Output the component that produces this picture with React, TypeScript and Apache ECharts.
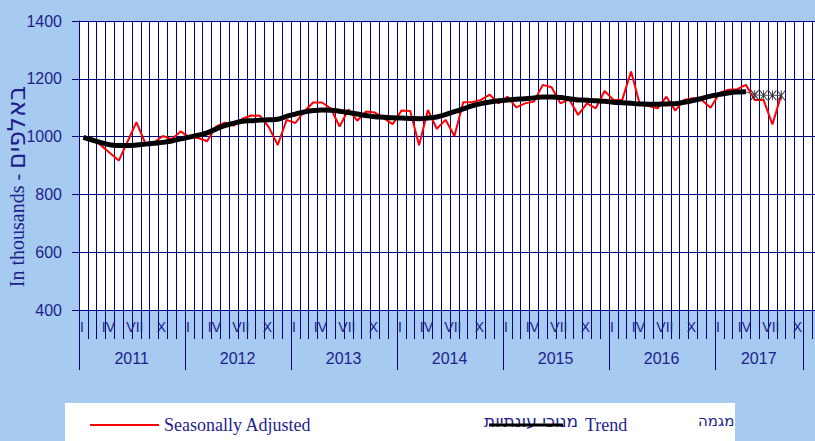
import React, { useEffect, useRef } from 'react';
import * as echarts from 'echarts';

const years = ['2011', '2012', '2013', '2014', '2015', '2016', '2017'];
const romanMonths = ['I', 'II', 'III', 'IV', 'V', 'VI', 'VII', 'VIII', 'IX', 'X', 'XI', 'XII'];
const shownMonthLabels = ['I', 'IV', 'VII', 'X'];
const categories: string[] = years.flatMap((y) => romanMonths.map((m) => `${y} ${m}`));
// last category covered by the year scale (axis separator after Oct 2017)
const yearScaleEnd = 82;

const seasonallyAdjusted = [
  998, 995, 969, 943, 917, 983, 1050, 977, 979, 1002, 991, 1018,
  998, 995, 984, 1034, 1048, 1038, 1062, 1073, 1072, 1032, 971, 1058,
  1047, 1087, 1118, 1118, 1098, 1035, 1094, 1055, 1087, 1083, 1064, 1043,
  1090, 1089, 970, 1092, 1027, 1058, 1002, 1119, 1119, 1127, 1145, 1115,
  1138, 1101, 1115, 1121, 1179, 1171, 1115, 1129, 1075, 1115, 1098, 1158,
  1127, 1127, 1225, 1110, 1106, 1098, 1138, 1090, 1127, 1133, 1127, 1100,
  1150, 1162, 1164, 1179, 1127, 1127, 1042, 1145,
];

const trend = [
  997, 988, 979, 972, 969, 969, 971, 974, 977, 980, 985, 992,
  998, 1005, 1013, 1026, 1038, 1046, 1053, 1055, 1057, 1058, 1060, 1070,
  1078, 1085, 1090, 1092, 1091, 1088, 1083, 1078, 1073, 1069, 1067, 1065,
  1064, 1063, 1062, 1064, 1068, 1076, 1086, 1096, 1106, 1114, 1120, 1124,
  1127, 1129, 1131, 1134, 1137, 1137, 1135, 1131, 1127, 1126, 1124, 1122,
  1119, 1117, 1115, 1113, 1112, 1112, 1113, 1114, 1119, 1125, 1132, 1140,
  1146, 1151, 1154, 1155,
];

// provisional trend estimates after the last trend month
const trendProvisional = [1144, 1143, 1143, 1142];

const NAVY = '#000080';
const TEXT = '#1e1e8c';

export default function App() {
  const ref = useRef<HTMLDivElement>(null);

  useEffect(() => {
    if (!ref.current) return;
    const chart = echarts.init(ref.current, null, { renderer: 'svg' });

    const lastTrend = trend.length - 1;
    const provisionalData: any[] = categories.map(() => null);
    provisionalData[lastTrend] = { value: trend[lastTrend], symbol: 'none' };
    trendProvisional.forEach((v, i) => {
      provisionalData[lastTrend + 1 + i] = v;
    });

    const yearLabelIdx = new Set<number>();
    years.forEach((_, yi) => {
      const start = yi * 12;
      const count = Math.min(12, yearScaleEnd - start);
      yearLabelIdx.add(start + Math.floor(count / 2) - 1);
    });

    chart.setOption({
      animation: false,
      backgroundColor: '#a6caf0',
      grid: {
        left: 79,
        top: 21,
        width: 742,
        height: 289,
        containLabel: false,
        outerBoundsMode: 'none',
        show: true,
        backgroundColor: '#ffffff',
        borderWidth: 0,
      },
      legend: [
        {
          data: ['Seasonally Adjusted'],
          left: 85,
          top: 411,
          icon: 'rect',
          itemWidth: 69,
          itemHeight: 2,
          textStyle: { fontFamily: 'Liberation Serif', fontSize: 18, color: TEXT },
        },
        {
          data: ['Trend'],
          left: 484,
          top: 411,
          icon: 'rect',
          itemWidth: 74,
          itemHeight: 3,
          textStyle: {
            fontFamily: 'Liberation Serif',
            fontSize: 18,
            color: TEXT,
            padding: [0, 0, 0, 17],
          },
        },
      ],
      graphic: [
        {
          type: 'rect',
          z: 0,
          shape: { x: 65, y: 403, width: 670, height: 40 },
          style: { fill: '#ffffff' },
        },
        {
          type: 'text',
          z: 1,
          x: 484,
          y: 421,
          style: {
            text: 'מנוכי עונתיות',
            align: 'left',
            verticalAlign: 'middle',
            font: '17px "DejaVu Sans"',
            fill: TEXT,
          },
        },
        {
          type: 'text',
          z: 1,
          x: 698,
          y: 421,
          style: {
            text: 'מגמה',
            align: 'left',
            verticalAlign: 'middle',
            font: '15px "DejaVu Sans"',
            fill: TEXT,
          },
        },
      ],
      xAxis: [
        {
          type: 'category',
          data: categories,
          boundaryGap: true,
          axisLine: { show: true, lineStyle: { color: NAVY, width: 1 } },
          axisTick: { show: true, interval: 0, length: 29, lineStyle: { color: NAVY } },
          axisLabel: {
            interval: (i: number) => i % 3 === 0,
            formatter: (_v: string, i: number) => shownMonthLabels[(i % 12) / 3] ?? '',
            margin: 10,
            padding: [0, 3, 0, 0],
            fontFamily: 'Liberation Sans',
            fontSize: 14,
            color: TEXT,
          },
          splitLine: { show: true, interval: 0, lineStyle: { color: NAVY, width: 1 } },
        },
        {
          type: 'category',
          data: categories,
          boundaryGap: true,
          position: 'bottom',
          axisLine: { show: false },
          axisTick: {
            show: true,
            interval: (i: number) => i % 12 === 0 || i === yearScaleEnd,
            length: 60,
            lineStyle: { color: NAVY },
          },
          axisLabel: {
            interval: (i: number) => yearLabelIdx.has(i),
            formatter: (v: string) => v.split(' ')[0],
            margin: 40,
            padding: [0, 0, 0, 8],
            fontFamily: 'Liberation Sans',
            fontSize: 16,
            color: TEXT,
          },
          splitLine: { show: false },
        },
      ],
      yAxis: {
        type: 'value',
        min: 400,
        max: 1400,
        interval: 200,
        name: '{en|In thousands - }{he|באלפים}',
        nameLocation: 'middle',
        nameGap: 50,
        nameMoveOverlap: false,
        nameTextStyle: {
          color: TEXT,
          padding: [0, 42, 0, 0],
          rich: {
            en: { fontFamily: 'Liberation Serif', fontSize: 20, color: TEXT },
            he: { fontFamily: 'DejaVu Sans', fontSize: 25, color: TEXT },
          },
        },
        axisLine: { show: true, lineStyle: { color: NAVY, width: 1 } },
        axisTick: { show: true, length: 7, lineStyle: { color: NAVY } },
        axisLabel: {
          margin: 17,
          fontFamily: 'Liberation Sans',
          fontSize: 16,
          color: TEXT,
          formatter: (v: number) => String(v),
        },
        splitLine: { show: true, lineStyle: { color: NAVY, width: 1 } },
      },
      series: [
        {
          name: 'Seasonally Adjusted',
          type: 'line',
          data: seasonallyAdjusted,
          symbol: 'none',
          lineStyle: { color: '#ff0000', width: 2 },
          itemStyle: { color: '#ff0000' },
          z: 3,
        },
        {
          name: 'Trend',
          type: 'line',
          data: trend,
          symbol: 'none',
          smooth: true,
          lineStyle: { color: '#000000', width: 5 },
          itemStyle: { color: '#000000' },
          z: 4,
        },
        {
          name: 'Trend provisional',
          type: 'line',
          data: provisionalData,
          connectNulls: false,
          symbol: 'path://M0,0L10,10M10,0L0,10M5,0L5,10',
          symbolSize: [8, 10],
          showSymbol: true,
          showAllSymbol: true,
          lineStyle: { color: '#555555', width: 1 },
          itemStyle: { color: 'none', borderColor: '#333333', borderWidth: 1 },
          z: 4,
        },
      ],
    });

    return () => chart.dispose();
  }, []);

  return (
    <div
      ref={ref}
      style={{ position: 'fixed', left: 0, top: 0, width: 815, height: 441 }}
    />
  );
}
